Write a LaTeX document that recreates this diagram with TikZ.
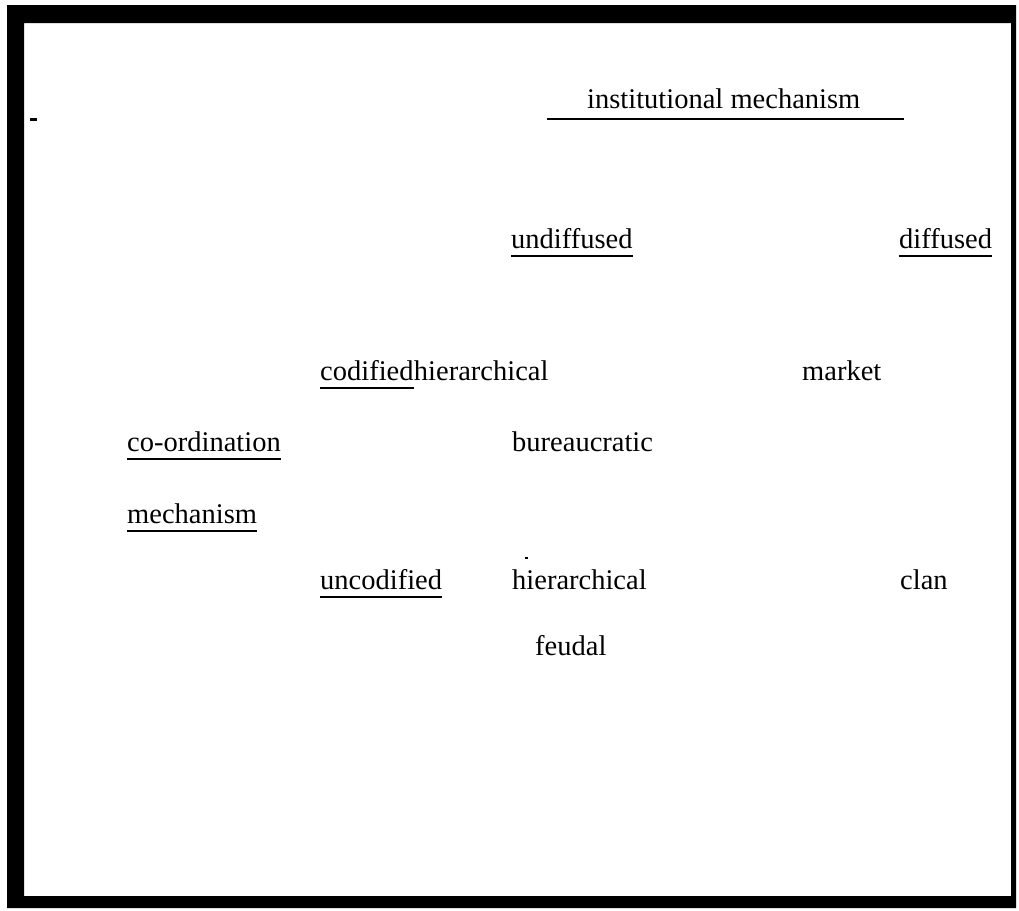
\documentclass[tikz,border=0pt]{standalone}
\usepackage{fontspec}
\setmainfont{Liberation Serif}
\usepackage{tikz}
\usetikzlibrary{positioning}

\begin{document}
\begin{tikzpicture}
[x=1pt,y=-1pt,
word/.style={anchor=base west,inner sep=0pt,font=\fontsize{28.5}{34}\selectfont},
ulline/.style={draw=black,line width=2.6pt},
frame/.style={fill=black,even odd rule}]
\useasboundingbox (0,0) rectangle (1019,910);
\path[frame] (7,5) rectangle (1016,908) (24,23) rectangle (1011,896);
\draw[line width=3pt] (30,119) -- (37,119);
\draw[line width=1.5pt] (525,558) -- (528,558);
% heading row
\node at (587,108) [word] (inst) {institutional mechanism};
\node at (511,248) [word] (undif) {undiffused};
\node at (899,248) [word] (dif) {diffused};
% codified row
\node at (320,380) [word] (codif) {codified};
\node at (codif.base east) [word] (hiera) {hierarchical};
\node at (802,380) [word] (market) {market};
\node at (127,451) [word] (coord) {co-ordination};
\node at (512,451) [word] (bureau) {bureaucratic};
\node at (127,523) [word] (mech) {mechanism};
% uncodified row
\node at (320,589) [word] (uncod) {uncodified};
\node at (512,589) [word] (hierb) {hierarchical};
\node at (900,589) [word] (clan) {clan};
\node at (535,655) [word] (feudal) {feudal};
% underlines
\draw[ulline] ([xshift=-40pt,yshift=-11pt]inst.base west) -- ([xshift=43pt,yshift=-11pt]inst.base east);
\foreach \n in {undif,dif,codif,coord,mech,uncod}
  \draw[ulline] ([yshift=-8pt]\n.base west) -- ([yshift=-8pt]\n.base east);
\end{tikzpicture}
\end{document}
